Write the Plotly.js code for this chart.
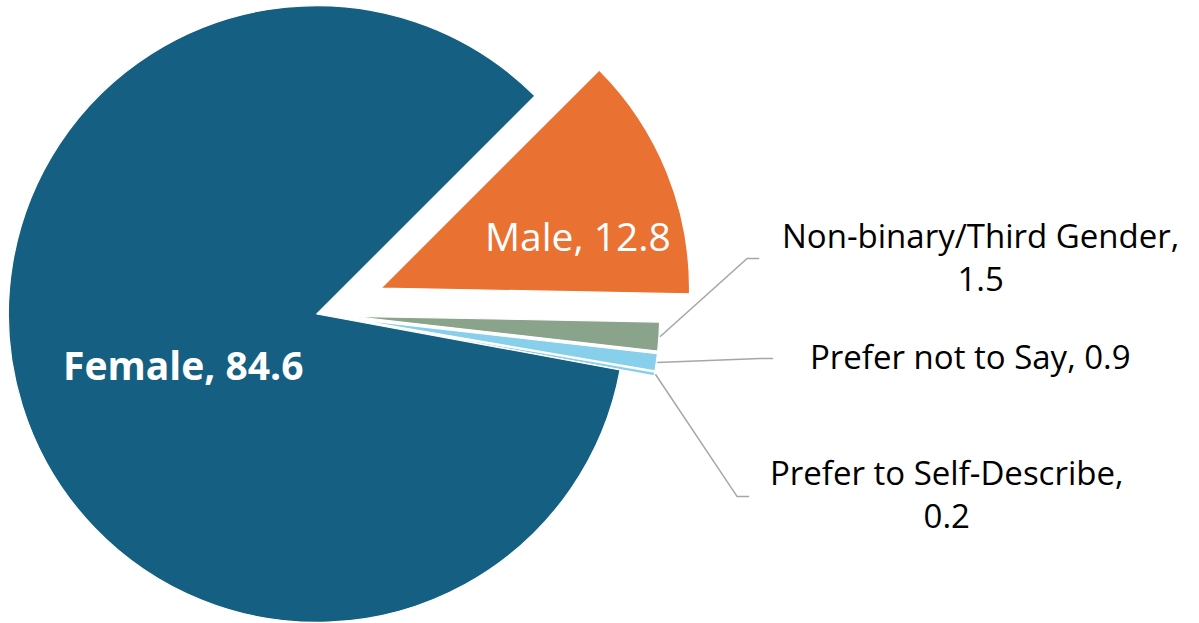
<!DOCTYPE html>
<html>
<head>
<meta charset="utf-8">
<script src="https://cdn.plot.ly/plotly-3.0.1.min.js"></script>
<style>
  html, body { margin: 0; padding: 0; width: 1199px; height: 623px; overflow: hidden; background: #fff; }
  #chart { position: absolute; }
</style>
</head>
<body>
<div id="chart"></div>
<script>
// ---- data ----
const categories = ["Male", "Non-binary/Third Gender", "Prefer not to Say", "Prefer to Self-Describe", "Female"];
const values = [12.8, 1.5, 0.9, 0.2, 84.6];
const pulls = [0.225, 0.112, 0.112, 0.112, 0];
const colors = ["#E97132", "#8AA38B", "#88CFEB", "#88CFEB", "#156082"];

// ---- layout geometry (screen pixels) ----
const W = 1199, H = 623;
const R = 308.5, CX = 316.5, CY = 313.5, ROT = 45;
const maxPull = Math.max.apply(null, pulls);
const BOX = 2 * R * (1 + maxPull);
const offL = CX - BOX / 2, offT = CY - BOX / 2;
const divW = W - offL, divH = Math.max(BOX, H - offT);
const el = document.getElementById('chart');
el.style.left = offL + 'px';
el.style.top = offT + 'px';
el.style.width = divW + 'px';
el.style.height = divH + 'px';
const px = sx => (sx - offL) / divW;
const py = sy => 1 - (sy - offT) / divH;

// label placement (layout)
const labelStyle = [
  {x: 578, y: 235, inside: true, bold: false, br: false},
  {x: 980, y: 257, inside: false, br: true, elbow: [747, 258], end: [759, 258]},
  {x: 970, y: 356, inside: false, br: false, elbow: [760, 358], end: [773, 358]},
  {x: 947, y: 493, inside: false, br: true, elbow: [737, 496], end: [749, 496]},
  {x: 183, y: 364, inside: true, bold: true, br: false}
];

const total = values.reduce((a, b) => a + b, 0);
const annotations = [];
const shapes = [];
let acc = 0;
values.forEach((v, i) => {
  const mid = (ROT + (acc + v / 2) / total * 360) * Math.PI / 180;
  acc += v;
  const st = labelStyle[i];
  let txt = categories[i] + "," + (st.br ? "<br>" : " ") + v.toFixed(1);
  if (st.bold) txt = "<b>" + txt + "</b>";
  annotations.push({
    xref: 'paper', yref: 'paper', x: px(st.x), y: py(st.y),
    xanchor: 'center', yanchor: 'middle', showarrow: false, text: txt,
    font: st.inside ? {family: 'Open Sans, sans-serif', size: 39, color: '#ffffff'}
                    : {family: 'Open Sans, sans-serif', size: 33, color: '#000000'}
  });
  if (!st.inside) {
    const rr = R * (1 + pulls[i]) + 1;
    const tx = CX + rr * Math.sin(mid), ty = CY - rr * Math.cos(mid);
    shapes.push({
      type: 'path', xref: 'paper', yref: 'paper',
      path: `M ${px(tx)} ${py(ty)} L ${px(st.elbow[0])} ${py(st.elbow[1])} L ${px(st.end[0])} ${py(st.end[1])}`,
      line: {color: '#A6A6A6', width: 1.5}
    });
  }
});

const trace = {
  type: 'pie',
  labels: categories,
  values: values,
  pull: pulls,
  sort: false,
  direction: 'clockwise',
  rotation: ROT,
  textinfo: 'none',
  hoverinfo: 'label+value',
  marker: {colors: colors, line: {color: '#ffffff', width: 1.2}},
  domain: {x: [0, BOX / divW], y: [1 - BOX / divH, 1]},
  showlegend: false
};

Plotly.newPlot(el, [trace], {
  width: divW, height: divH,
  margin: {l: 0, r: 0, t: 0, b: 0},
  paper_bgcolor: '#ffffff',
  showlegend: false,
  annotations: annotations,
  shapes: shapes
}, {staticPlot: true});
</script>
</body>
</html>
